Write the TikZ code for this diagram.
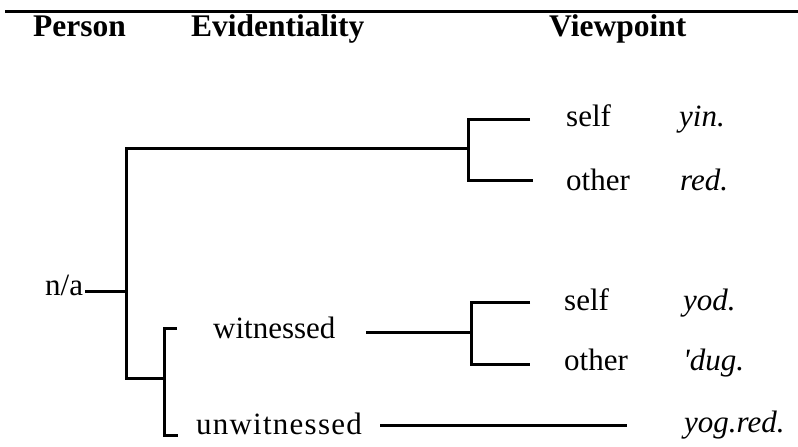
\documentclass[tikz,border=0pt]{standalone}
\usepackage{fontspec}
\setmainfont{Liberation Serif}
\begin{document}
\begin{tikzpicture}[x=1pt,y=-1pt,
  lbl/.style={anchor=base west, inner sep=0pt, font=\fontsize{31}{36}\selectfont},
  hdr/.style={lbl, font=\fontsize{31.5}{36}\selectfont\bfseries},
  gloss/.style={lbl, font=\fontsize{31}{36}\selectfont\itshape},
  tree/.style={line width=3pt, line join=miter},
  rule/.style={line width=3pt}]
\useasboundingbox (0,0) rectangle (798,447);

% top rule
\coordinate (ruleL) at (5,11);
\coordinate (ruleR) at (798,11);
\draw[rule] (ruleL) -- (ruleR);

% headers
\node[hdr] (hPerson) at (33,36) {Person};
\node[hdr] (hEvid) at (191,36) {Evidentiality};
\node[hdr] (hView) at (549,36) {Viewpoint};

% labels
\node[lbl] (na) at (45,295) {n/a};
\node[lbl] (wit) at (213,338) {witnessed};
\node[lbl, anchor=base] (unwit) at (279,434) {\addfontfeature{LetterSpace=4}unwitnessed};

\node[lbl] (selfA) at (566,126) {self};
\node[gloss] (yin) at (679,126) {yin.};
\node[lbl] (otherA) at (566,190) {other};
\node[gloss] (red) at (680,190) {red.};

\node[lbl] (selfB) at (564,310) {self};
\node[gloss] (yod) at (683,310) {yod.};
\node[lbl] (otherB) at (564,370) {other};
\node[gloss] (dug) at (683,370) {\textquotesingle dug.};
\node[gloss] (yogred) at (684,432) {yog.red.};

% junctions
\coordinate (j0) at (126,291);
\coordinate (jt) at (126,148);
\coordinate (jb) at (126,378);
\coordinate (u1) at (468,148);
\coordinate (u1t) at (468,119);
\coordinate (u1b) at (468,180);
\coordinate (u1tE) at (530,119);
\coordinate (u1bE) at (533,180);
\coordinate (e0) at (164,378);
\coordinate (eT) at (164,328);
\coordinate (eB) at (164,435);
\coordinate (eTE) at (177,328);
\coordinate (eBE) at (178,435);
\coordinate (wL) at (366,332);
\coordinate (w1) at (471,332);
\coordinate (w1t) at (471,302);
\coordinate (w1b) at (471,364);
\coordinate (w1tE) at (530,302);
\coordinate (w1bE) at (530,364);
\coordinate (uL) at (380,425);
\coordinate (uR) at (627,425);
\coordinate (naE) at (85,291);

% tree
\draw[tree] (naE) -- (j0);
\draw[tree] (u1) -- (jt) -- (jb) -- (e0);
\draw[tree] (u1tE) -- (u1t) -- (u1b) -- (u1bE);
\draw[tree] (eTE) -- (eT) -- (eB) -- (eBE);
\draw[tree] (wL) -- (w1);
\draw[tree] (w1tE) -- (w1t) -- (w1b) -- (w1bE);
\draw[tree] (uL) -- (uR);
\end{tikzpicture}
\end{document}
